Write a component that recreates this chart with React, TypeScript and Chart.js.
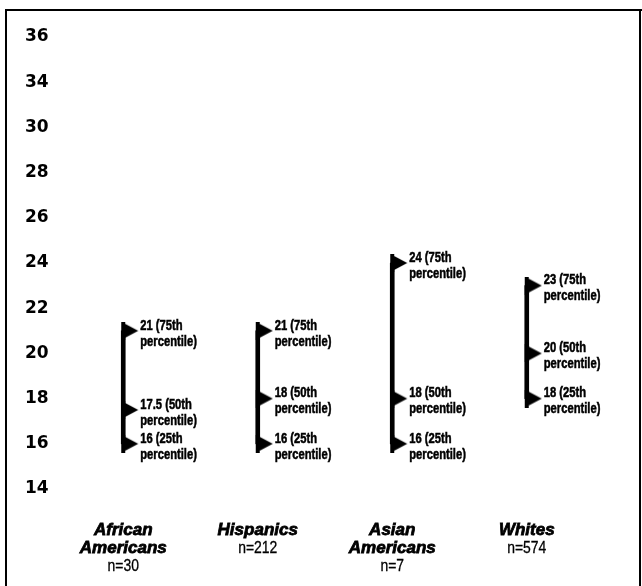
import React, { useEffect, useRef } from "react";
import { Chart, registerables } from "chart.js";

Chart.register(...registerables);

// ---- data ----
const groups = ["African Americans", "Hispanics", "Asian Americans", "Whites"];
const groupNameLines = [["African", "Americans"], ["Hispanics"], ["Asian", "Americans"], ["Whites"]];
const sampleSizes = ["n=30", "n=212", "n=7", "n=574"];
const p25 = [16, 16, 16, 18];
const p50 = [17.5, 18, 18, 20];
const p75 = [21, 21, 24, 23];
const percentileNames = ["25th", "50th", "75th"];
const percentileWord = "percentile)";
// tick labels as printed on the original axis (bottom to top)
const yTickLabels = ["14", "16", "18", "20", "22", "24", "26", "28", "30", "34", "36"];

function makeMarker(): HTMLCanvasElement {
  const c = document.createElement("canvas");
  c.width = 34;
  c.height = 18;
  const ctx = c.getContext("2d")!;
  ctx.fillStyle = "#000";
  ctx.fillRect(15, 0, 4, 18);
  ctx.beginPath();
  ctx.moveTo(17, 1);
  ctx.lineTo(32, 9);
  ctx.lineTo(17, 17);
  ctx.closePath();
  ctx.fill();
  return c;
}

function drawNarrow(
  ctx: CanvasRenderingContext2D,
  text: string,
  x: number,
  y: number,
  sx: number,
  align: CanvasTextAlign,
  heavy: number
) {
  ctx.save();
  ctx.translate(x, y);
  ctx.scale(sx, 1);
  ctx.textAlign = align;
  ctx.fillText(text, 0, 0);
  if (heavy > 0) {
    ctx.lineWidth = heavy;
    ctx.strokeStyle = "#000";
    ctx.strokeText(text, 0, 0);
  }
  ctx.restore();
}

const labelsPlugin = {
  id: "customLabels",
  afterDatasetsDraw(chart: any) {
    const ctx = chart.ctx as CanvasRenderingContext2D;
    const xs = chart.scales.x;
    const ys = chart.scales.y;
    ctx.save();
    ctx.fillStyle = "#000";
    ctx.textBaseline = "middle";
    // percentile labels
    ctx.font = "bold 14px 'Liberation Sans', Arial, sans-serif";
    const sets = [p25, p50, p75];
    groups.forEach((_, i) => {
      const x = xs.getPixelForValue(i);
      sets.forEach((arr, k) => {
        const y = ys.getPixelForValue(arr[i]);
        drawNarrow(ctx, `${arr[i]} (${percentileNames[k]}`, x + 17, y - 5, 0.8, "left", 0.5);
        drawNarrow(ctx, percentileWord, x + 17, y + 11, 0.8, "left", 0.5);
      });
    });
    // category labels
    groups.forEach((_, i) => {
      const x = xs.getPixelForValue(i);
      let y = 530;
      ctx.font = "italic bold 17px 'Liberation Sans', Arial, sans-serif";
      groupNameLines[i].forEach((ln) => {
        drawNarrow(ctx, ln, x, y, 1, "center", 0.8);
        y += 18;
      });
      ctx.font = "17px 'Liberation Sans', Arial, sans-serif";
      drawNarrow(ctx, sampleSizes[i], x, y, 0.82, "center", 0.3);
    });
    ctx.restore();
  },
  beforeDraw(chart: any) {
    const ctx = chart.ctx as CanvasRenderingContext2D;
    ctx.save();
    ctx.fillStyle = "#fff";
    ctx.fillRect(0, 0, chart.width, chart.height);
    ctx.fillStyle = "#000";
    ctx.fillRect(5, 9, 637, 2);
    ctx.fillRect(5, 9, 2, 577);
    ctx.fillRect(639, 9, 2, 577);
    ctx.restore();
  },
};

export default function App() {
  const ref = useRef<HTMLCanvasElement | null>(null);
  useEffect(() => {
    if (!ref.current) return;
    const marker = makeMarker();
    const chart = new Chart(ref.current, {
      type: "bar",
      data: {
        labels: groups,
        datasets: [
          {
            type: "bar",
            data: p25.map((v, i) => [v, p75[i]]) as any,
            backgroundColor: "#000",
            barThickness: 4,
            borderWidth: 0,
          } as any,
          ...[p75, p50, p25].map((arr) => ({
            type: "line",
            data: arr,
            showLine: false,
            pointStyle: marker,
            pointRadius: 9,
            borderColor: "#000",
            backgroundColor: "#000",
          })) as any,
        ],
      },
      options: {
        animation: false,
        responsive: false,
        layout: { padding: { left: 25, top: 37, right: 48, bottom: 97 } },
        plugins: { legend: { display: false }, tooltip: { enabled: false } },
        scales: {
          x: { display: false, offset: true },
          y: {
            min: 14,
            max: 34,
            grid: { display: false, drawTicks: false },
            border: { display: false },
            ticks: {
              stepSize: 2,
              crossAlign: "far",
              color: "#000",
              padding: 0,
              font: { family: "'DejaVu Sans', sans-serif", weight: "bold", size: 17 },
              callback: (_v: any, idx: number) => yTickLabels[idx],
            },
            afterFit: (s: any) => {
              s.width = 31;
            },
          },
        },
      },
      plugins: [labelsPlugin],
    });
    return () => chart.destroy();
  }, []);
  return (
    <div style={{ position: "absolute", left: 0, top: 0, width: 642, height: 586 }}>
      <canvas ref={ref} width={642} height={586} style={{ display: "block" }} />
    </div>
  );
}
